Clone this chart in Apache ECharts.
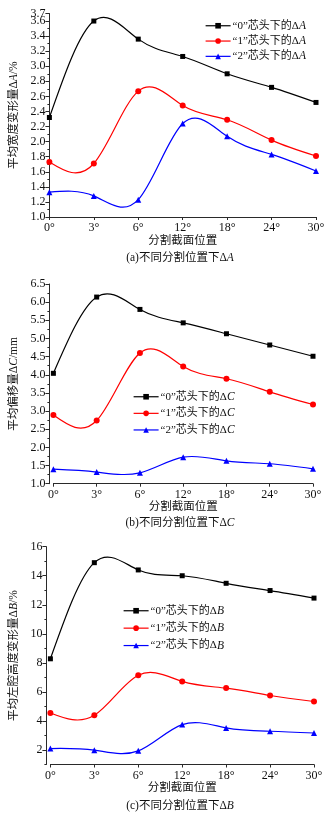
<!DOCTYPE html>
<html>
<head>
<meta charset="utf-8">
<script src="https://cdn.jsdelivr.net/npm/echarts@6/dist/echarts.min.js"></script>
<style>
  html, body { margin: 0; padding: 0; background: #fff; }
  #chart { width: 332px; height: 814px; }
</style>
</head>
<body>
<div id="chart"></div>
<script>
// Cut-section positions along the x axis
const positions = ['0°', '3°', '6°', '12°', '18°', '24°', '30°'];

// (a) mean width deformation ΔA (%)
const widthA0 = [2.32, 3.60, 3.36, 3.13, 2.90, 2.72, 2.52];
const widthA1 = [1.73, 1.71, 2.67, 2.48, 2.29, 2.02, 1.81];
const widthA2 = [1.33, 1.28, 1.23, 2.24, 2.07, 1.83, 1.61];

// (b) mean offset ΔC (mm)
const offsetC0 = [4.04, 6.14, 5.80, 5.43, 5.13, 4.82, 4.51];
const offsetC1 = [2.89, 2.74, 4.60, 4.23, 3.89, 3.53, 3.18];
const offsetC2 = [1.40, 1.32, 1.30, 1.73, 1.63, 1.55, 1.41];

// (c) mean left-cavity height deformation ΔB (%)
const heightB0 = [8.28, 14.90, 14.40, 14.00, 13.48, 12.98, 12.46];
const heightB1 = [4.55, 4.39, 7.15, 6.72, 6.26, 5.75, 5.34];
const heightB2 = [2.10, 1.99, 1.94, 3.75, 3.52, 3.29, 3.17];

// Y tick labels
const widthTicks = [1.0, 1.2, 1.4, 1.6, 1.8, 2.0, 2.2, 2.4, 2.6, 2.8, 3.0, 3.2, 3.4, 3.6];
const widthTop = [3.7];
const heightTicks = [2, 4, 6, 8, 10, 12, 14, 16];
const heightMinor = [1, 3, 5, 7, 9, 11, 13, 15];

const SERIF = '"Liberation Serif", "Times New Roman", "Noto Sans CJK SC", serif';
const AXIS = '#2a2a2a';
const rich = { i: { fontStyle: 'italic', fontFamily: SERIF, fontSize: 11.5, color: '#111' } };

function italicTail(s) { return s.replace(/Δ([A-Z])/, 'Δ{i|$1}'); }

function xAxisOf(grid, nameGap) {
  return {
    gridIndex: grid, type: 'category', boundaryGap: false, data: positions,
    axisLine: { lineStyle: { color: AXIS, width: 1 } },
    axisTick: { length: 3, lineStyle: { color: AXIS } },
    axisLabel: { fontFamily: SERIF, fontSize: 12, color: '#111', margin: 5 },
    splitLine: { show: false },
    name: '分割截面位置', nameLocation: 'middle', nameGap: nameGap,
    nameTextStyle: { fontFamily: SERIF, fontSize: 11.5, color: '#111' }
  };
}

function yAxisOf(grid, name, min, max, interval, offset, nameGap) {
  return {
    gridIndex: grid, type: 'value', position: 'left', min: min, max: max, interval: interval, offset: offset,
    axisLine: { show: true, lineStyle: { color: AXIS, width: 1 } },
    axisTick: { show: true, length: 4, lineStyle: { color: AXIS } },
    minorTick: { show: true, splitNumber: 2, length: 2, lineStyle: { color: AXIS } },
    axisLabel: {
      fontFamily: SERIF, fontSize: 12, color: '#111', margin: 4,
      showMinLabel: true, showMaxLabel: true, hideOverlap: false
    },
    splitLine: { show: false },
    name: italicTail(name), nameLocation: 'middle', nameGap: nameGap, nameRotate: 90,
    nameTextStyle: { fontFamily: SERIF, fontSize: 11.5, color: '#111', rich: rich }
  };
}

// Extra left axis that only carries some ticks / labels
function overlayAxis(grid, min, max, offset, tickValues, tickLen, labelValues) {
  return {
    gridIndex: grid, type: 'value', position: 'left', min: min, max: max, offset: offset,
    axisLine: { show: false },
    axisTick: { show: tickValues.length > 0, length: tickLen, customValues: tickValues, lineStyle: { color: AXIS } },
    axisLabel: {
      show: labelValues.length > 0, customValues: labelValues,
      fontFamily: SERIF, fontSize: 12, color: '#111', margin: 4,
      formatter: v => Number(v).toFixed(1)
    },
    splitLine: { show: false }
  };
}

// Markers (and legend entry) of one curve; the curve itself is drawn by splineSeries
function markerSeries(name, data, idx, color, symbol, size) {
  return {
    name: name, type: 'line', xAxisIndex: idx, yAxisIndex: idx, data: data, z: 3,
    symbol: symbol, symbolSize: size, showSymbol: true,
    lineStyle: { color: color, width: 1.2, opacity: 0 },
    itemStyle: { color: color }
  };
}

// Natural cubic spline through the pixel positions of the data, as bezier segments
function splineSegments(pts) {
  const n = pts.length;
  const h = [], M = new Array(n).fill(0);
  for (let i = 0; i < n - 1; i++) h.push(pts[i + 1][0] - pts[i][0]);
  const a = [], b = [], c = [], r = [];
  for (let i = 1; i < n - 1; i++) {
    a.push(h[i - 1]); b.push(2 * (h[i - 1] + h[i])); c.push(h[i]);
    r.push(6 * ((pts[i + 1][1] - pts[i][1]) / h[i] - (pts[i][1] - pts[i - 1][1]) / h[i - 1]));
  }
  const m = b.length;
  for (let i = 1; i < m; i++) {
    const w = a[i] / b[i - 1];
    b[i] -= w * c[i - 1];
    r[i] -= w * r[i - 1];
  }
  const sol = new Array(m);
  for (let i = m - 1; i >= 0; i--) sol[i] = (r[i] - (i < m - 1 ? c[i] * sol[i + 1] : 0)) / b[i];
  for (let i = 0; i < m; i++) M[i + 1] = sol[i];
  const segs = [];
  for (let i = 0; i < n - 1; i++) {
    const hi = h[i], d = (pts[i + 1][1] - pts[i][1]) / hi;
    const s0 = d - hi * (2 * M[i] + M[i + 1]) / 6;
    const s1 = d + hi * (M[i] + 2 * M[i + 1]) / 6;
    segs.push({
      x1: pts[i][0], y1: pts[i][1], x2: pts[i + 1][0], y2: pts[i + 1][1],
      cpx1: pts[i][0] + hi / 3, cpy1: pts[i][1] + s0 * hi / 3,
      cpx2: pts[i + 1][0] - hi / 3, cpy2: pts[i + 1][1] - s1 * hi / 3
    });
  }
  return segs;
}

function splineSeries(values, idx, color) {
  return {
    type: 'custom', xAxisIndex: idx, yAxisIndex: idx, z: 2, silent: true,
    data: values.map((v, i) => [i, v]),
    renderItem: function (params, api) {
      if (params.dataIndex !== 0) return null;
      const pts = values.map((v, i) => api.coord([i, v]));
      return {
        type: 'group',
        children: splineSegments(pts).map(s => ({
          type: 'bezierCurve', shape: s,
          style: { stroke: color, fill: 'none', lineWidth: 1.2 }
        }))
      };
    }
  };
}

function legendOf(left, top, gap, names) {
  return {
    orient: 'vertical', left: left, top: top, padding: 0,
    itemWidth: 25, itemHeight: 7, itemGap: gap,
    data: names, selectedMode: false,
    formatter: italicTail,
    lineStyle: { width: 1.2, opacity: 1 },
    textStyle: { fontFamily: SERIF, fontSize: 11, color: '#111', padding: [0, 0, 0, -3], rich: rich }
  };
}

const namesA = ['“0”芯头下的ΔA', '“1”芯头下的ΔA', '“2”芯头下的ΔA'];
const namesC = ['“0”芯头下的ΔC', '“1”芯头下的ΔC', '“2”芯头下的ΔC'];
const namesB = ['“0”芯头下的ΔB', '“1”芯头下的ΔB', '“2”芯头下的ΔB'];

function caption(y, text) {
  return {
    type: 'text', x: 180, y: y,
    style: {
      text: italicTail(text), align: 'center', verticalAlign: 'middle',
      fontFamily: SERIF, fontSize: 11.5, fill: '#111', rich: rich
    }
  };
}

const yA = yAxisOf(0, '平均宽度变形量ΔA/%', 1.0, 3.7, 0.2, 0, 25);
yA.axisLabel.formatter = v => Number(v).toFixed(1);
yA.axisLabel.customValues = widthTicks;
yA.axisTick.customValues = widthTicks.concat(widthTop);

const yC = yAxisOf(1, '平均偏移量ΔC/mm', 1.0, 6.5, 0.5, 4, 25);
yC.axisLabel.formatter = v => Number(v).toFixed(1);

const yB = yAxisOf(2, '平均左腔高度变形量ΔB/%', 1, 16, null, 4, 24);
delete yB.interval;
yB.minorTick = { show: false };
yB.axisTick.customValues = heightTicks;
yB.axisLabel.customValues = heightTicks;
yB.axisLabel.formatter = v => String(v);

const option = {
  backgroundColor: '#fff',
  animation: false,
  grid: [
    { left: 42, right: 16, top: 13.5, height: 203.5 },
    { left: 45.5, right: 19, top: 284, height: 199.7 },
    { left: 40, right: 18, top: 546.7, height: 217.8 }
  ],
  xAxis: [xAxisOf(0, 17), xAxisOf(1, 17), xAxisOf(2, 17)],
  yAxis: [
    yA, yC, yB,
    overlayAxis(2, 1, 16, 4, heightMinor, 2, []),
    overlayAxis(0, 1.0, 3.7, 0, [], 0, widthTop)
  ],
  legend: [
    legendOf(205, 20, 3.8, namesA),
    legendOf(133, 391, 5.1, namesC),
    legendOf(123, 605, 5.9, namesB)
  ],
  graphic: [
    caption(258, '(a)不同分割位置下ΔA'),
    caption(523, '(b)不同分割位置下ΔC'),
    caption(806, '(c)不同分割位置下ΔB')
  ],
  series: [
    splineSeries(widthA0, 0, '#000000'),
    splineSeries(widthA1, 0, '#ff0000'),
    splineSeries(widthA2, 0, '#0000ff'),
    splineSeries(offsetC0, 1, '#000000'),
    splineSeries(offsetC1, 1, '#ff0000'),
    splineSeries(offsetC2, 1, '#0000ff'),
    splineSeries(heightB0, 2, '#000000'),
    splineSeries(heightB1, 2, '#ff0000'),
    splineSeries(heightB2, 2, '#0000ff'),
    markerSeries(namesA[0], widthA0, 0, '#000000', 'rect', 5),
    markerSeries(namesA[1], widthA1, 0, '#ff0000', 'circle', 6),
    markerSeries(namesA[2], widthA2, 0, '#0000ff', 'triangle', 6),
    markerSeries(namesC[0], offsetC0, 1, '#000000', 'rect', 5),
    markerSeries(namesC[1], offsetC1, 1, '#ff0000', 'circle', 6),
    markerSeries(namesC[2], offsetC2, 1, '#0000ff', 'triangle', 6),
    markerSeries(namesB[0], heightB0, 2, '#000000', 'rect', 5),
    markerSeries(namesB[1], heightB1, 2, '#ff0000', 'circle', 6),
    markerSeries(namesB[2], heightB2, 2, '#0000ff', 'triangle', 6)
  ]
};

const chart = echarts.init(document.getElementById('chart'), null, { renderer: 'canvas' });
chart.setOption(option);
</script>
</body>
</html>
